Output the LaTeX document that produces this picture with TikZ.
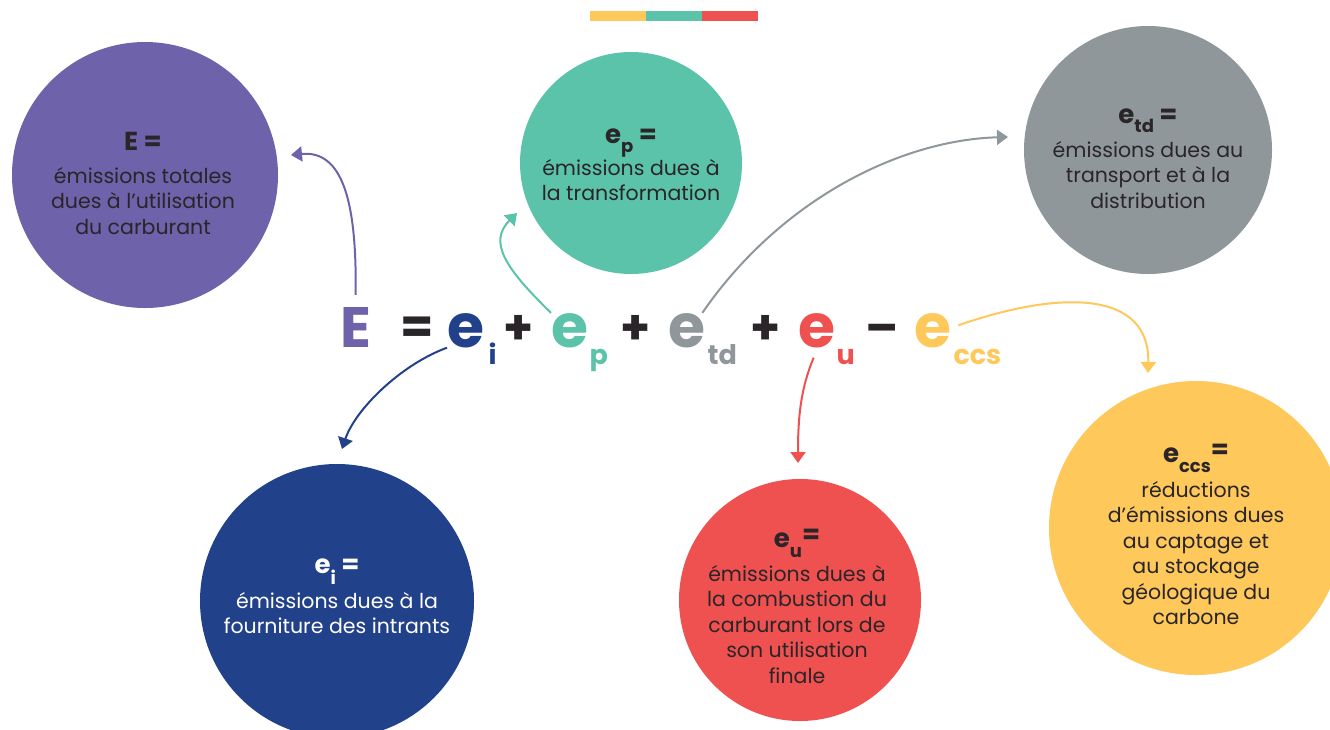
\documentclass[tikz,border=0pt]{standalone}
\usepackage{fontspec}
\setmainfont{Poppins}
\usetikzlibrary{arrows.meta}
\definecolor{violetE}{HTML}{6E62AA}
\definecolor{vertP}{HTML}{5BC3A9}
\definecolor{grisTD}{HTML}{8F979B}
\definecolor{bleuI}{HTML}{21418A}
\definecolor{rougeU}{HTML}{EF5150}
\definecolor{jauneCCS}{HTML}{FEC85A}
\definecolor{encre}{HTML}{2A2528}
\newcommand{\lowsub}[3]{\raisebox{-#1pt}{\fontsize{#2}{#2}\selectfont #3}}
\newcommand{\LIGNE}{25.5}

\begin{document}
\begin{tikzpicture}[x=1pt, y=-1pt,
    bulle/.style={circle, inner sep=0pt, fill=#1},
    titre/.style={anchor=base, inner sep=0pt, text=encre, font=\fontsize{26}{26}\selectfont\bfseries},
    corps/.style={anchor=base, inner sep=0pt, text=encre, font=\fontsize{20.5}{25}\selectfont},
    terme/.style={anchor=base west, inner sep=0pt, font=\fontsize{60}{60}\selectfont\bfseries},
    signe/.style={anchor=base west, inner sep=0pt, text=encre, font=\fontsize{48}{48}\selectfont\bfseries},
    indice/.style={anchor=base west, inner sep=0pt, font=\fontsize{27}{27}\selectfont\bfseries},
    fleche/.style={draw=#1, line width=2pt, -{Triangle[length=11pt,width=15pt]}}]

    \useasboundingbox (0,0) rectangle (1330,729);
    \clip (0,0) rectangle (1330,729);

    % barre de couleurs
    \foreach \c [count=\k] in {jauneCCS, vertP, rougeU} {
            \fill[\c] ({590 + 56 * (\k - 1)}, 11) rectangle ({646 + 56 * (\k - 1)}, 21);
        }

    % bulles
    \node[bulle=violetE, minimum size=266pt] (bE) at (145, 175) {};
    \node[bulle=vertP, minimum size=222pt] (bP) at (631, 163) {};
    \node[bulle=grisTD, minimum size=248pt] (bTD) at (1148, 150) {};
    \node[bulle=bleuI, minimum size=274pt] (bI) at (337, 601) {};
    \node[bulle=rougeU, minimum size=242pt] (bU) at (800, 600) {};
    \node[bulle=jauneCCS, minimum size=294pt] (bCCS) at (1196, 528) {};

    % textes des bulles
    \node[titre] (hE) at (143, 150) {E =};
    \foreach \ligne [count=\k] in {émissions totales, dues à l’utilisation, du carburant} {
            \node[corps] (tE\k) at (143, {183 + \LIGNE * (\k - 1)}) {\ligne};
        }

    \node[titre] (hP) at (631, 143) {e\lowsub{9}{18}{p} =};
    \foreach \ligne [count=\k] in {émissions dues à, la transformation} {
            \node[corps] (tP\k) at (631, {175 + \LIGNE * (\k - 1)}) {\ligne};
        }

    \node[titre] (hTD) at (1148, 123) {e\lowsub{9}{18}{td} =};
    \foreach \ligne [count=\k] in {émissions dues au, transport et à la, distribution} {
            \node[corps] (tTD\k) at (1148, {157 + \LIGNE * (\k - 1)}) {\ligne};
        }

    \node[titre, text=white] (hI) at (337, 573) {e\lowsub{11}{18}{i} =};
    \foreach \ligne [count=\k] in {émissions dues à la, fourniture des intrants} {
            \node[corps, text=white] (tI\k) at (337, {608 + \LIGNE * (\k - 1)}) {\ligne};
        }

    \node[titre] (hU) at (797, 547) {e\lowsub{10}{18}{u}\raisebox{4pt}{=}};
    \foreach \ligne [count=\k] in {émissions dues à, la combustion du, carburant lors de, son utilisation, finale} {
            \node[corps] (tU\k) at (797, {581 + \LIGNE * (\k - 1)}) {\ligne};
        }

    \node[titre] (hCCS) at (1196, 462) {e\lowsub{10}{18}{ccs}\raisebox{4pt}{=}};
    \foreach \ligne [count=\k] in {réductions, d’émissions dues, au captage et, au stockage, géologique du, carbone} {
            \node[corps] (tCCS\k) at (1196, {497 + \LIGNE * (\k - 1)}) {\ligne};
        }

    % equation
    \node[terme, text=violetE, font=\fontsize{57}{57}\selectfont\bfseries] (eE) at (340, 347) {E};
    \node[signe] (eEg) at (400, 343) {=};
    \node[terme, text=bleuI] (eI) at (447, 347) {e};
    \node[indice, text=bleuI] (sI) at ([xshift=4pt, yshift=-17pt]eI.base east) {i};
    \node[signe] (pl1) at (503, 344) {+};
    \node[terme, text=vertP] (eP) at (551, 347) {e};
    \node[indice, text=vertP] (sP) at ([xshift=1pt, yshift=-17pt]eP.base east) {p};
    \node[signe] (pl2) at (620, 344) {+};
    \node[terme, text=grisTD] (eTD) at (668, 347) {e};
    \node[indice, text=grisTD] (sTD) at ([xshift=2pt, yshift=-17pt]eTD.base east) {td};
    \node[signe] (pl3) at (750, 344) {+};
    \node[terme, text=rougeU] (eU) at (798, 347) {e};
    \node[indice, text=rougeU] (sU) at ([xshift=1pt, yshift=-17pt]eU.base east) {u};
    \node[signe] (mo) at (865, 344) {–};
    \node[terme, text=jauneCCS] (eCCS) at (914, 347) {e};
    \node[indice, text=jauneCCS] (sCCS) at ([xshift=2pt, yshift=-17pt]eCCS.base east) {ccs};

    % pointes des fleches
    \coordinate (pE) at (291, 155);
    \coordinate (pP) at (517, 213);
    \coordinate (pTD) at (1008, 137);
    \coordinate (pI) at (342, 449);
    \coordinate (pU) at (798, 463);
    \coordinate (pCCS) at (1148, 373);

    % fleches
    \draw[fleche=violetE] ([yshift=12pt]eE.north) .. controls (357, 200) and (342, 150) .. (pE);
    \draw[fleche=vertP] (eP.north west) .. controls (505, 268) and (488, 242) .. (pP);
    \draw[fleche=grisTD] ([xshift=-3pt]eTD.north east) .. controls (780, 200) and (900, 140) .. (pTD);
    \draw[fleche=bleuI] (eI.south west) .. controls (400, 365) and (355, 410) .. (pI);
    \draw[fleche=rougeU] ([xshift=-3pt, yshift=-10pt]eU.south) .. controls (800, 390) and (798, 420) .. (pU);
    \draw[fleche=jauneCCS] ([xshift=7pt, yshift=5pt]eCCS.east) .. controls (1060, 290) and (1150, 290) .. (pCCS);
\end{tikzpicture}
\end{document}
